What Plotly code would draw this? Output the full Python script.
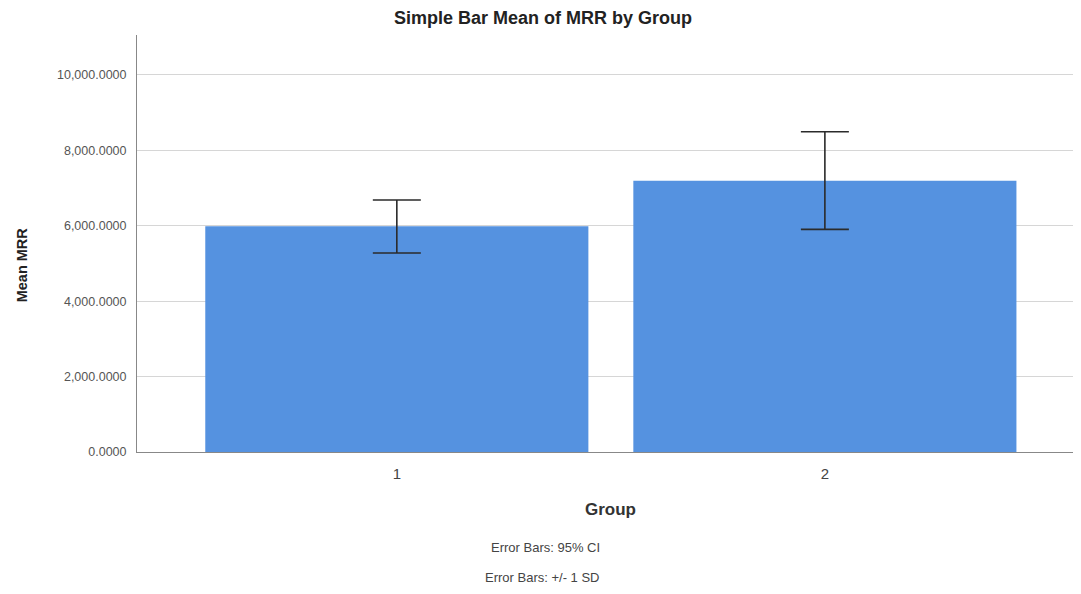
import plotly.graph_objects as go

groups = ["1", "2"]
mean_mrr = [5990, 7195]
err_plus = [695, 1300]
err_minus = [710, 1290]
y_ticks = [0, 2000, 4000, 6000, 8000, 10000]

FONT = "Arial, Liberation Sans, sans-serif"

fig = go.Figure()
fig.add_trace(go.Bar(
    x=[0, 1], y=mean_mrr, width=0.895,
    marker=dict(color="#5592e0", line=dict(width=0)),
    error_y=dict(type="data", symmetric=False, array=err_plus, arrayminus=err_minus,
                 color="#2b2b2b", thickness=1.6, width=24),
))

# page body has an 8px margin, so the figure is sized to fit inside the window
fig.update_layout(
    width=1073, height=586,
    margin=dict(l=129, r=1, t=27, b=142),
    paper_bgcolor="white", plot_bgcolor="white",
    showlegend=False,
    title=dict(text="<b>Simple Bar Mean of MRR by Group</b>", x=0.4986, xanchor="center",
               y=0.983, yanchor="middle", font=dict(family=FONT, size=18, color="#222")),
    font=dict(family=FONT),
)
fig.update_xaxes(
    range=[-0.607, 1.596], tickvals=[0, 1], ticktext=groups,
    showline=True, linecolor="#888", linewidth=1, showgrid=False, ticks="",
    ticklabelstandoff=8,
    tickfont=dict(size=15, color="#444"),
)
fig.update_yaxes(
    range=[0, 11060], tickvals=y_ticks, tickformat=",.4f",
    showline=True, linecolor="#888", linewidth=1,
    showgrid=True, gridcolor="#d6d6d6", gridwidth=1, zeroline=False,
    ticks="", ticklabelstandoff=7, tickfont=dict(size=12.5, color="#555"),
)
fig.add_annotation(text="<b>Mean MRR</b>", xref="paper", yref="paper", x=-0.122, y=0.45,
                   textangle=-90, showarrow=False, font=dict(size=14.5, color="#222"),
                   xanchor="center", yanchor="middle")
fig.add_annotation(text="<b>Group</b>", xref="paper", yref="paper", x=0.5016, y=-0.139,
                   showarrow=False, font=dict(size=17, color="#333"),
                   xanchor="center", yanchor="middle")
fig.add_annotation(text="Error Bars: 95% CI", xref="paper", yref="paper", x=0.433, y=-0.230,
                   showarrow=False, font=dict(size=13, color="#444"), xanchor="center", yanchor="middle")
fig.add_annotation(text="Error Bars: +/- 1 SD", xref="paper", yref="paper", x=0.43, y=-0.302,
                   showarrow=False, font=dict(size=13, color="#444"), xanchor="center", yanchor="middle")

fig.write_html("out.html")
